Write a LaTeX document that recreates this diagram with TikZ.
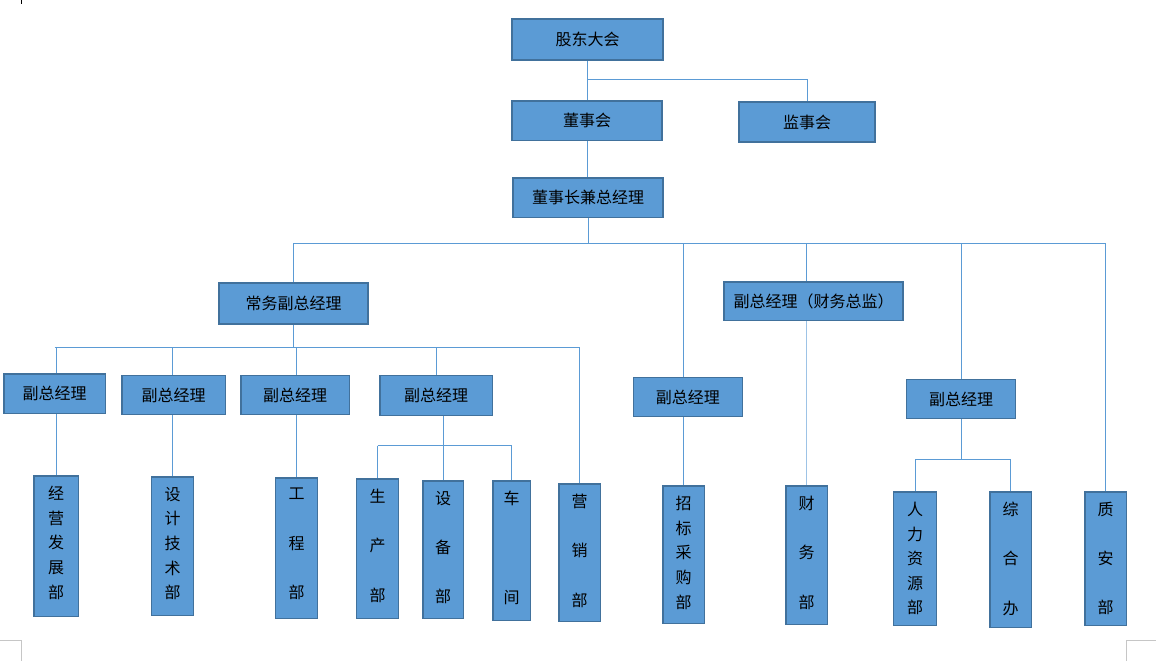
\documentclass[tikz,border=0pt]{standalone}
\usepackage{fontspec}
\setmainfont{Noto Sans CJK SC}
\usepackage{xcolor}
\usetikzlibrary{backgrounds}
\definecolor{boxfill}{HTML}{5B9BD5}
\definecolor{boxline}{HTML}{41719C}
\definecolor{linkline}{HTML}{5B9BD5}
\definecolor{linklight}{HTML}{9DC3E6}
\tikzset{
  unit/.style={rectangle, draw=boxline, fill=boxfill, line width=1.5pt, inner sep=0pt, font=\fontsize{16}{20}\selectfont}, % Define the horizontal box style
  dept/.style={rectangle, draw=boxline, fill=boxfill, line width=1.5pt, inner sep=0pt}, % Define the vertical box style
  deptname/.style={anchor=north, inner sep=0pt, align=center, yshift=-11pt, font=\fontsize{16}{24.6}\selectfont},
  link/.style={draw=linkline, line width=0.9pt},
  cornermark/.style={draw=gray!45, line width=1pt}
}
\begin{document}
\begin{tikzpicture}[x=1pt, y=-1pt]
        \useasboundingbox (0,0) rectangle (1156,661);

        % Top levels
        \node[unit, minimum width=151pt, minimum height=41pt] (gd) at (587.5,39.5) {股东大会};
        \node[unit, minimum width=150pt, minimum height=39.5pt] (dsh) at (587,120.5) {董事会};
        \node[unit, minimum width=136pt, minimum height=40pt] (jsh) at (807,122) {监事会};
        \node[unit, minimum width=150pt, minimum height=39.5pt] (zjl) at (588,197.5) {董事长兼总经理};

        % Deputy managers
        \node[unit, minimum width=149pt, minimum height=41pt] (cw) at (293.5,303.5) {常务副总经理};
        \node[unit, minimum width=179pt, minimum height=38.5pt] (cwzj) at (813.5,301) {副总经理（财务总监）};
        \node[unit, minimum width=101.5pt, minimum height=39.5pt] (f1) at (54.5,393.5) {副总经理};
        \node[unit, minimum width=103.5pt, minimum height=39pt] (f2) at (173.5,395) {副总经理};
        \node[unit, minimum width=108.5pt, minimum height=39pt] (f3) at (295,395) {副总经理};
        \node[unit, minimum width=112.5pt, minimum height=40pt] (f4) at (436,395.5) {副总经理};
        \node[unit, minimum width=109pt, minimum height=39pt] (f5) at (687.8,397) {副总经理};
        \node[unit, minimum width=109pt, minimum height=39pt] (f6) at (961,399) {副总经理};

        % Departments
        \node[dept, minimum width=44.5pt, minimum height=140.5pt] (jyfz) at (56,546) {};
        \node[dept, minimum width=42pt, minimum height=138.5pt] (sjjs) at (172.5,546) {};
        \node[dept, minimum width=42pt, minimum height=140.5pt] (gcb) at (296.5,548) {};
        \node[dept, minimum width=42pt, minimum height=139.5pt] (scb) at (377.5,548.5) {};
        \node[dept, minimum width=40.5pt, minimum height=137.5pt] (sbb) at (443,549.5) {};
        \node[dept, minimum width=37.5pt, minimum height=139.5pt] (cj) at (511.5,550.5) {};
        \node[dept, minimum width=41.5pt, minimum height=137.5pt] (yxb) at (579.5,552.5) {};
        \node[dept, minimum width=41.5pt, minimum height=137.5pt] (zbcg) at (683.5,554.5) {};
        \node[dept, minimum width=41.5pt, minimum height=138.5pt] (cwb) at (806.5,555) {};
        \node[dept, minimum width=43pt, minimum height=133.5pt] (rlzy) at (915.2,558.5) {};
        \node[dept, minimum width=41.5pt, minimum height=135.5pt] (zhb) at (1010.5,559.5) {};
        \node[dept, minimum width=41.5pt, minimum height=133.5pt] (zab) at (1105.5,558.5) {};

        % Department names
        \node[deptname] (jyfz-t) at (jyfz.north) {经\\营\\发\\展\\部};
        \node[deptname] (sjjs-t) at (sjjs.north) {设\\计\\技\\术\\部};
        \node[deptname] (gcb-t) at (gcb.north) {工\\~\\程\\~\\部};
        \node[deptname] (scb-t) at (scb.north) {生\\~\\产\\~\\部};
        \node[deptname] (sbb-t) at (sbb.north) {设\\~\\备\\~\\部};
        \node[deptname] (cj-t) at (cj.north) {车\\~\\~\\~\\间};
        \node[deptname] (yxb-t) at (yxb.north) {营\\~\\销\\~\\部};
        \node[deptname] (zbcg-t) at (zbcg.north) {招\\标\\采\\购\\部};
        \node[deptname] (cwb-t) at (cwb.north) {财\\~\\务\\~\\部};
        \node[deptname] (rlzy-t) at (rlzy.north) {人\\力\\资\\源\\部};
        \node[deptname] (zhb-t) at (zhb.north) {综\\~\\合\\~\\办};
        \node[deptname] (zab-t) at (zab.north) {质\\~\\安\\~\\部};

        % Connectors
        \begin{scope}[on background layer]
          \coordinate (bus1) at (0,79);
          \coordinate (bus2) at (0,243);
          \coordinate (bus3) at (0,347);
          \coordinate (bus4) at (0,445.5);
          \coordinate (bus5) at (0,459);

          \draw[link] (gd.south) -- (gd.south |- dsh.north);
          \draw[link] (gd.south |- bus1) -| (jsh.north);
          \draw[link] (dsh.south) -- (dsh.south |- zjl.north);

          \draw[link] (zjl.south) -- (zjl.south |- bus2);
          \draw[link] (cw.north |- bus2) -- (zab.north |- bus2);
          \draw[link] (cw.north |- bus2) -- (cw.north);
          \draw[link] (zbcg.north |- bus2) -- (zbcg.north);
          \draw[link] (cwb.north |- bus2) -- (cwb.north |- cwzj.north);
          \draw[link, draw=linklight, line width=1.6pt] (cwb.north |- cwzj.south) -- (cwb.north);
          \draw[link] (f6.north |- bus2) -- (f6.north);
          \draw[link] (zab.north |- bus2) -- (zab.north);

          \draw[link] (cw.south) -- (cw.south |- bus3);
          \draw[link] (f1.north |- bus3) -- (yxb.north |- bus3);
          \draw[link] (jyfz.north |- bus3) -- (jyfz.north);
          \draw[link] (sjjs.north |- bus3) -- (sjjs.north);
          \draw[link] (gcb.north |- bus3) -- (gcb.north);
          \draw[link] (f4.north |- bus3) -- (f4.north);
          \draw[link] (yxb.north |- bus3) -- (yxb.north);

          \draw[link] (sbb.north |- f4.south) -- (sbb.north);
          \draw[link] (scb.north |- bus4) -- (cj.north |- bus4);
          \draw[link] (scb.north |- bus4) -- (scb.north);
          \draw[link] (cj.north |- bus4) -- (cj.north);

          \draw[link] (f6.south) -- (f6.south |- bus5);
          \draw[link] (rlzy.north |- bus5) -- (zhb.north |- bus5);
          \draw[link] (rlzy.north |- bus5) -- (rlzy.north);
          \draw[link] (zhb.north |- bus5) -- (zhb.north);
        \end{scope}

        % Page corners
        \draw[cornermark] (0,640.5) -- (21.5,640.5) -- (21.5,661);
        \draw[cornermark] (1126.5,661) -- (1126.5,640.5) -- (1156,640.5);
        \draw[black, line width=1.5pt] (21.5,0) -- (21.5,4);
    \end{tikzpicture}
\end{document}
